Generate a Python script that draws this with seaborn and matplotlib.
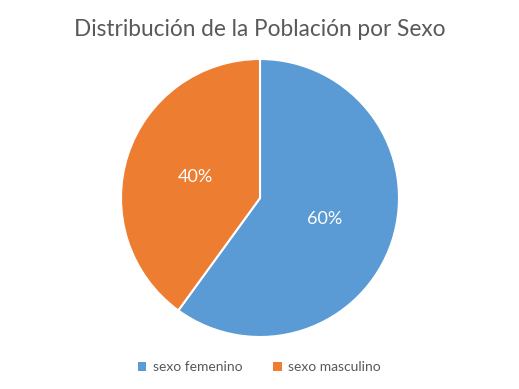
import matplotlib
matplotlib.use("Agg")
import matplotlib.pyplot as plt
import seaborn as sns
from matplotlib.patches import Patch

categories = ["sexo femenino", "sexo masculino"]
values = [60, 40]
colors = ["#5B9BD5", "#ED7D31"]
title = "Distribución de la Población por Sexo"

sns.set_theme(style="white")
plt.rcParams['font.family'] = ['Lato', 'DejaVu Sans']

W, H = 519, 389
fig = plt.figure(figsize=(W / 100, H / 100), dpi=100)
cx, cy, r = 260, 198, 139
ax = fig.add_axes([(cx - r) / W, (H - cy - r) / H, 2 * r / W, 2 * r / H])

wedges, texts, autotexts = ax.pie(
    values, colors=colors, startangle=90, counterclock=False,
    autopct="%1.0f%%", pctdistance=0.49,
    wedgeprops=dict(edgecolor="white", linewidth=1.5),
    textprops=dict(color="white", fontsize=13),
)
ax.set_xlim(-1, 1)
ax.set_ylim(-1, 1)
ax.set_aspect("equal")

fig.text(0.5, (H - 30) / H, title, ha="center", va="center",
         fontsize=16.3, color="#595959")

handles = [Patch(facecolor=c, edgecolor="none") for c in colors]
fig.legend(handles, categories, loc="center", bbox_to_anchor=(0.5, (H - 367) / H),
           ncol=2, frameon=False, fontsize=10, handlelength=0.6, handleheight=0.6,
           handletextpad=0.5, columnspacing=2.2, labelcolor="#595959")

fig.savefig("out.png", dpi=100)
